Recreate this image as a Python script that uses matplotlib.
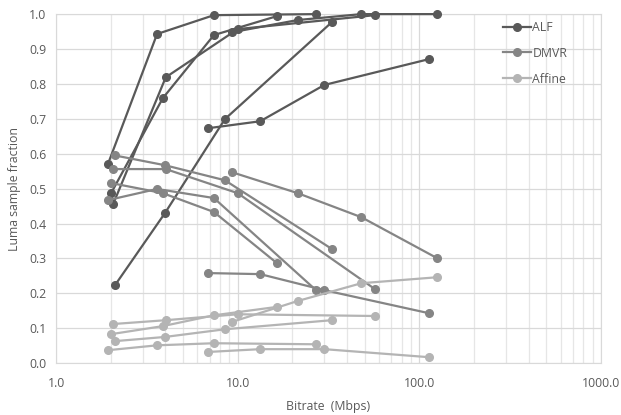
import matplotlib
matplotlib.use('Agg')
import matplotlib.pyplot as plt
from matplotlib.lines import Line2D
import numpy as np

# bitrate (Mbps) of the four QPs for each of the six sequences
bitrate = [
    [1.93, 3.6, 7.4, 27.0],
    [2.01, 3.87, 7.4, 16.4],
    [2.06, 4.02, 10.0, 57.0],
    [2.11, 3.98, 8.5, 33.0],
    [6.87, 13.3, 30.0, 113.0],
    [9.3, 21.4, 48.0, 125.0],
]

# luma sample fraction per tool, same sequence order as bitrate
alf = [
    [0.570, 0.943, 0.997, 1.000],
    [0.487, 0.759, 0.940, 0.994],
    [0.455, 0.819, 0.957, 0.997],
    [0.223, 0.430, 0.699, 0.977],
    [0.673, 0.693, 0.797, 0.871],
    [0.948, 0.983, 1.000, 1.000],
]
dmvr = [
    [0.467, 0.499, 0.473, 0.209],
    [0.516, 0.487, 0.433, 0.287],
    [0.556, 0.556, 0.487, 0.212],
    [0.595, 0.567, 0.524, 0.327],
    [0.258, 0.255, 0.209, 0.143],
    [0.547, 0.487, 0.418, 0.301],
]
affine = [
    [0.037, 0.051, 0.057, 0.054],
    [0.083, 0.106, 0.137, 0.161],
    [0.112, 0.123, 0.140, 0.135],
    [0.063, 0.075, 0.097, 0.123],
    [0.032, 0.040, 0.040, 0.017],
    [0.118, 0.178, 0.229, 0.246],
]

tool_names = ['ALF', 'DMVR', 'Affine']
tool_colors = ['#595959', '#858585', '#b4b4b4']

plt.rcParams['font.family'] = ['Open Sans', 'DejaVu Sans']

fig = plt.figure(figsize=(6.21, 4.15), dpi=100)
ax = fig.add_axes([0.0902, 0.125, 0.8776, 0.841])

for data, color in zip([alf, dmvr, affine], tool_colors):
    for xs, ys in zip(bitrate, data):
        ax.plot(xs, ys, '-o', color=color, lw=1.6, ms=5.5, zorder=3, clip_on=False)

ax.set_xscale('log')
ax.set_xlim(1, 1000)
ax.set_ylim(0, 1.0)
ax.set_yticks(np.arange(0, 1.01, 0.1))
ax.set_yticklabels(['%.1f' % v for v in np.arange(0, 1.01, 0.1)])
ax.set_xticks([1, 10, 100, 1000])
ax.set_xticklabels(['1.0', '10.0', '100.0', '1000.0'])
ax.xaxis.set_minor_formatter(plt.NullFormatter())

ax.grid(True, which='major', color='#d9d9d9', lw=0.9)
ax.grid(True, which='minor', axis='x', color='#e6e6e6', lw=0.9)
ax.set_axisbelow(True)
for s in ax.spines.values():
    s.set_color('#d9d9d9')
ax.tick_params(which='both', length=0, colors='#595959', labelsize=8.8)
ax.tick_params(axis='x', pad=10)
ax.tick_params(axis='y', pad=7)

ax.set_xlabel('Bitrate  (Mbps)', fontsize=8.8, color='#595959', labelpad=7)
ax.set_ylabel('Luma sample fraction', fontsize=8.8, color='#595959', labelpad=6)

handles = [Line2D([], [], color=c, marker='o', lw=1.6, ms=5.5) for c in tool_colors]
ax.legend(handles, tool_names, loc='upper left', bbox_to_anchor=(0.8, 1.012),
          frameon=False, fontsize=8.8, labelspacing=1.05, handlelength=2.3,
          handletextpad=0.1, labelcolor='#595959')

fig.savefig('out.png', dpi=100)
